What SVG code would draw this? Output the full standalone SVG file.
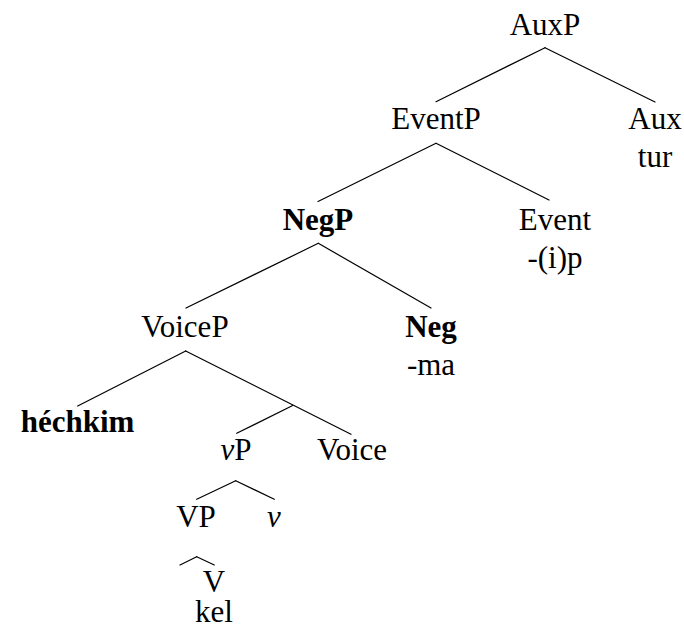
<svg xmlns="http://www.w3.org/2000/svg" width="684" height="632" viewBox="0 0 684 632">
<style>
.t{font-family:'Times New Roman','Liberation Serif',serif;font-size:31px;fill:#000;text-anchor:middle}
.b{font-weight:bold}
.i{font-style:italic}
.e line{stroke:#000;stroke-width:1.2;stroke-linecap:round}
</style>
<rect width="684" height="632" fill="#fff"/>
<g id="AuxP"><text class="t" font-family="Times New Roman, serif" x="545" y="35">AuxP</text></g>
<g id="EventP"><text class="t" font-family="Times New Roman, serif" x="436" y="129">EventP</text></g>
<g id="Aux"><text class="t" font-family="Times New Roman, serif" x="655" y="129">Aux</text><text class="t" font-family="Times New Roman, serif" x="655" y="167">tur</text></g>
<g id="NegP"><text class="t b" font-family="Times New Roman, serif" x="318" y="230">NegP</text></g>
<g id="Event"><text class="t" font-family="Times New Roman, serif" x="555" y="230">Event</text><text class="t" font-family="Times New Roman, serif" x="555" y="268">-(i)p</text></g>
<g id="VoiceP"><text class="t" font-family="Times New Roman, serif" x="185" y="337">VoiceP</text></g>
<g id="Neg"><text class="t b" font-family="Times New Roman, serif" x="431" y="337">Neg</text><text class="t" font-family="Times New Roman, serif" x="431" y="375">-ma</text></g>
<g id="hechkim"><text class="t b" font-family="Times New Roman, serif" x="77.5" y="432">h&#233;chkim</text></g>
<g id="vP"><text class="t" font-family="Times New Roman, serif" x="236" y="460"><tspan class="i">v</tspan>P</text></g>
<g id="Voice"><text class="t" font-family="Times New Roman, serif" x="352" y="460">Voice</text></g>
<g id="VP"><text class="t" font-family="Times New Roman, serif" x="196" y="527">VP</text></g>
<g id="v"><text class="t i" font-family="Times New Roman, serif" x="274" y="527">v</text></g>
<g id="V"><text class="t" font-family="Times New Roman, serif" x="214" y="592">V</text><text class="t" font-family="Times New Roman, serif" x="214" y="622">kel</text></g>
<g id="edges" class="e">
<line x1="545" y1="47.7" x2="436" y2="101.7"/>
<line x1="545" y1="47.7" x2="655" y2="102"/>
<line x1="436" y1="143.3" x2="318" y2="201.5"/>
<line x1="436" y1="143.3" x2="549" y2="200"/>
<line x1="318.3" y1="243.3" x2="186" y2="308"/>
<line x1="318.3" y1="243.3" x2="431" y2="308"/>
<line x1="185.7" y1="351" x2="77.7" y2="406"/>
<line x1="185.7" y1="351" x2="351" y2="434.3"/>
<line x1="292.7" y1="405.5" x2="236.7" y2="433.3"/>
<line x1="235.7" y1="480.7" x2="196.7" y2="499.3"/>
<line x1="235.7" y1="480.7" x2="274.3" y2="499.3"/>
<line x1="196.7" y1="556.7" x2="180" y2="565"/>
<line x1="196.7" y1="556.7" x2="214.3" y2="565"/>
</g>
</svg>
